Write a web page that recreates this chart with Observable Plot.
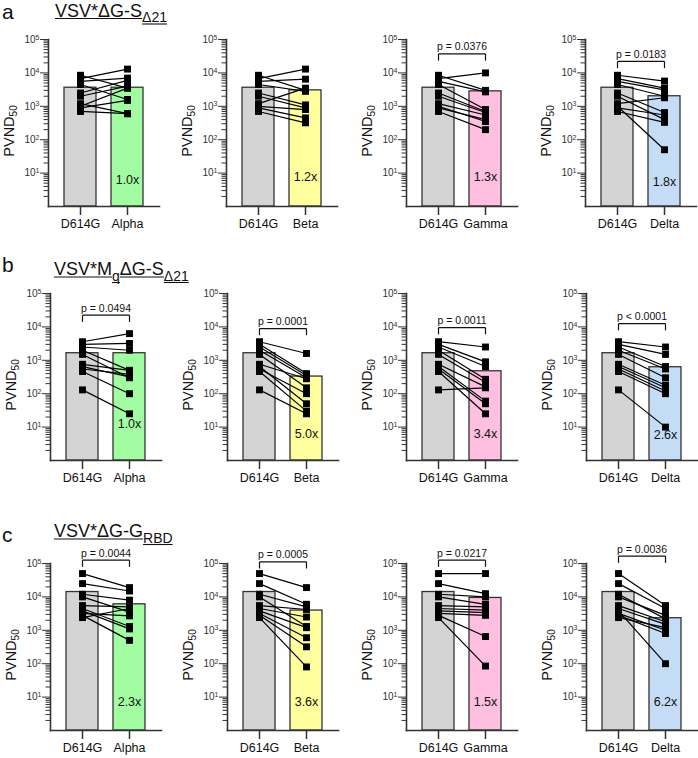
<!DOCTYPE html>
<html><head><meta charset="utf-8">
<script src="https://cdn.jsdelivr.net/npm/d3@7"></script>
<script src="https://cdn.jsdelivr.net/npm/@observablehq/plot@0.6"></script>
<style>
body{margin:0;background:#fff;font-family:"Liberation Sans",Arial,sans-serif;overflow:hidden}
#root{position:relative;width:698px;height:758px;overflow:hidden}
.panel{position:absolute}
#overlay{position:absolute;left:0;top:0;z-index:3;pointer-events:none}
</style></head><body><div id="root"></div>
<script>
// ---------- DATA ----------
const refName = "D614G";
const variants = ["Alpha", "Beta", "Gamma", "Delta"];

// Row a: VSV*ΔG-S_Δ21
const a_D614G = [8500, 6700, 5600, 4500, 2500, 2000, 1200, 900, 700, 1000];
const a_Alpha = [3500, 13000, 7000, 1600, 6000, 4000, 600, 1500, 600, 3500];
const a_Beta  = [3000, 13000, 6500, 2800, 1100, 900, 3500, 450, 320, 800];
const a_Gamma = [3000, 10000, 2700, 800, 700, 650, 550, 400, 200, 350];
const a_Delta = [5700, 3500, 3100, 2000, 650, 400, 1800, 550, 330, 50];
const a_means = [3600, 3600, 3000, 2800, 2000]; // D614G, Alpha, Beta, Gamma, Delta
const a_folds = ["1.0x", "1.2x", "1.3x", "1.8x"];
const a_pvals = [null, null, "p = 0.0376", "p = 0.0183"];

// Row b: VSV*MqΔG-S_Δ21
const b_D614G = [3600, 3000, 2500, 2000, 1500, 760, 650, 550, 460, 130];
const b_Alpha = [6300, 3200, 2000, 500, 300, 500, 320, 380, 100, 25];
const b_Beta  = [1600, 400, 350, 300, 150, 280, 50, 100, 30, 25];
const b_Gamma = [2500, 900, 650, 270, 220, 160, 60, 50, 25, 150];
const b_Delta = [2500, 1500, 650, 550, 300, 180, 150, 120, 100, 10];
const b_means = [1630, 1630, 326, 470, 620];
const b_folds = ["1.0x", "5.0x", "3.4x", "2.6x"];
const b_pvals = ["p = 0.0494", "p = 0.0001", "p = 0.0011", "p < 0.0001"];

// Row c: VSV*ΔG-G_RBD
const c_D614G = [50000, 25000, 12000, 10000, 5500, 4500, 3800, 3200, 2800, 2400];
const c_Alpha = [19000, 15000, 8000, 3500, 5000, 1300, 1100, 2700, 500, 4500];
const c_Beta  = [19000, 6000, 5000, 1300, 4200, 2500, 1200, 600, 320, 80];
const c_Gamma = [50000, 12500, 10000, 6000, 5000, 4000, 3400, 2800, 650, 85];
const c_Delta = [5500, 4500, 2200, 2800, 1800, 1500, 100, 1000, 800, 1200];
const c_means = [14000, 6000, 3900, 9300, 2300];
const c_folds = ["2.3x", "3.6x", "1.5x", "6.2x"];
const c_pvals = ["p = 0.0044", "p = 0.0005", "p = 0.0217", "p = 0.0036"];

const majorTicks = [10, 100, 1000, 10000, 100000];
const minorTicks = [];
for (let k = 0; k < 5; k++) for (let m = 2; m <= 9; m++) minorTicks.push(m * Math.pow(10, k));

// ---------- STYLE / LAYOUT ----------
const barColors = {D614G: "#d4d4d4", Alpha: "#a2fda2", Beta: "#ffff9e", Gamma: "#ffbfe0", Delta: "#c5dcf6"};
const rowLayout = [
  {letter: "a", letterBase: 19, titleX: 55, titleBase: 16.5, top: 9, lefts: [0, 178, 358, 537],
   title: [{t: "VSV*ΔG-S"}, {t: "Δ21", sub: true}],
   bracketLevels: [null, null, 37000, 22000], foldLevels: [6.3, 7.9, 7.9, 5.6]},
  {letter: "b", letterBase: 272, titleX: 54, titleBase: 275, top: 263, lefts: [2, 179, 358, 538],
   title: [{t: "VSV*M"}, {t: "q", sub: true}, {t: "ΔG-S"}, {t: "Δ21", sub: true}],
   bracketLevels: [22400, 8900, 9500, 12500], foldLevels: [12, 6.3, 6.3, 5.8]},
  {letter: "c", letterBase: 542, titleX: 54, titleBase: 537, top: 533, lefts: [2, 179, 358, 538],
   title: [{t: "VSV*ΔG-G"}, {t: "RBD", sub: true}],
   bracketLevels: [126000, 112000, 126000, 166000], foldLevels: [7.1, 7.1, 7.1, 7.1]}
];
const rowsData = [
  {ref: a_D614G, vars: [a_Alpha, a_Beta, a_Gamma, a_Delta], means: a_means, folds: a_folds, pvals: a_pvals},
  {ref: b_D614G, vars: [b_Alpha, b_Beta, b_Gamma, b_Delta], means: b_means, folds: b_folds, pvals: b_pvals},
  {ref: c_D614G, vars: [c_Alpha, c_Beta, c_Gamma, c_Delta], means: c_means, folds: c_folds, pvals: c_pvals}
];

const W = 178, H = 224, ML = 48, MR = 19, MT = 30, MB = 27;
const FONT = "Liberation Sans, Arial, Helvetica, sans-serif";
const root = document.getElementById("root");

function makePanel(row, col) {
  const L = rowLayout[row], D = rowsData[row];
  const variant = variants[col];
  const refVals = D.ref, varVals = D.vars[col];
  const pairs = refVals.map((v, i) => ({a: v, b: varVals[i]}));
  const pts = refVals.map(v => ({x: refName, y: v})).concat(varVals.map(v => ({x: variant, y: v})));
  const bars = [
    {x: refName, y1: 1, y2: D.means[0], c: barColors[refName]},
    {x: variant, y1: 1, y2: D.means[col + 1], c: barColors[variant]}
  ];
  const marks = [
    Plot.barY(bars, {x: "x", y1: "y1", y2: "y2", fill: "c", stroke: "#333", strokeWidth: 1.3}),
    Plot.link(pairs, {x1: () => refName, x2: () => variant, y1: "a", y2: "b", stroke: "#000", strokeWidth: 1.2}),
    Plot.dot(pts, {x: "x", y: "y", symbol: "square", r: 3.9, fill: "#000", stroke: null}),
    Plot.axisY({ticks: minorTicks, tickSize: 4.5, tickFormat: () => "", label: null, stroke: "#333"}),
    Plot.axisY({ticks: majorTicks, tickSize: 8, tickPadding: 1, tickFormat: d => "10^" + Math.round(Math.log10(d)), label: null, fontSize: 10, fill: "#333", stroke: "#333"}),
    Plot.axisX({tickSize: 9, tickPadding: 4, label: null, fontSize: 12.5, fill: "#111", stroke: "#333", strokeWidth: 1.5}),
    Plot.frame({anchor: "left", stroke: "#333", strokeWidth: 1.6}),
    Plot.frame({anchor: "bottom", stroke: "#333", strokeWidth: 1.6}),
    Plot.text([{t: D.folds[col], x: variant, y: L.foldLevels[col]}], {x: "x", y: "y", text: "t", fontSize: 12.5, fill: "#111"})
  ];
  const p = D.pvals[col];
  if (p) {
    const by = L.bracketLevels[col];
    const legEnd = by * Math.pow(10, -0.2);
    marks.push(
      Plot.link([{x1: refName, x2: variant, y: by}], {x1: "x1", x2: "x2", y1: "y", y2: "y", stroke: "#111", strokeWidth: 1.2}),
      Plot.link([{x: refName}, {x: variant}], {x1: "x", x2: "x", y1: () => by, y2: () => legEnd, stroke: "#111", strokeWidth: 1.2}),
      Plot.text([{t: p, y: by}], {y: "y", text: "t", dy: -7, fontSize: 10.5, fill: "#111"})
    );
  }
  const svg = Plot.plot({
    width: W, height: H, marginLeft: ML, marginRight: MR, marginTop: MT, marginBottom: MB,
    style: {fontFamily: FONT, fontSize: "12px", color: "#333", background: "transparent", overflow: "visible"},
    x: {type: "band", domain: [refName, variant], paddingInner: 0.32, paddingOuter: 0.34},
    y: {type: "log", domain: [1, 100000]},
    marks
  });
  // superscript exponents on the y tick labels
  d3.select(svg).selectAll("text").each(function () {
    const s = this.textContent;
    const m = /^10\^(\d)$/.exec(s);
    if (m) {
      const t = d3.select(this);
      t.text("10");
      t.append("tspan").attr("dy", "-0.45em").attr("font-size", "7px").text(m[1]);
    }
  });
  // y axis title PVND50
  const lab = d3.select(svg).append("text")
    .attr("transform", `translate(14,${MT + 92}) rotate(-90)`)
    .attr("text-anchor", "middle").attr("fill", "#111")
    .attr("font-family", FONT);
  lab.append("tspan").attr("font-size", "14.5px").text("PVND");
  lab.append("tspan").attr("font-size", "10px").attr("dy", "3").text("50");
  svg.classList.add("panel");
  svg.style.left = L.lefts[col] + "px";
  svg.style.top = L.top + "px";
  svg.style.position = "absolute";
  root.appendChild(svg);
}

for (let r = 0; r < 3; r++) for (let c = 0; c < 4; c++) makePanel(r, c);

// ---------- letters and titles ----------
const ov = d3.select(root).append("svg").attr("id", "overlay").attr("width", 698).attr("height", 758)
  .attr("font-family", FONT).attr("fill", "#111");
rowLayout.forEach(L => {
  ov.append("text").attr("x", 2).attr("y", L.letterBase).attr("font-size", 21).text(L.letter);
  let x = L.titleX;
  for (const p of L.title) {
    const fs = p.sub ? 14 : 18;
    const b = p.sub ? L.titleBase + 5.5 : L.titleBase;
    const t = ov.append("text").attr("x", x).attr("y", b).attr("font-size", fs).text(p.t);
    const w = t.node().getComputedTextLength();
    ov.append("line").attr("x1", x).attr("x2", x + w).attr("y1", b + 2).attr("y2", b + 2)
      .attr("stroke", "#111").attr("stroke-width", 1.1);
    x += w;
  }
});
</script>
</body></html>
